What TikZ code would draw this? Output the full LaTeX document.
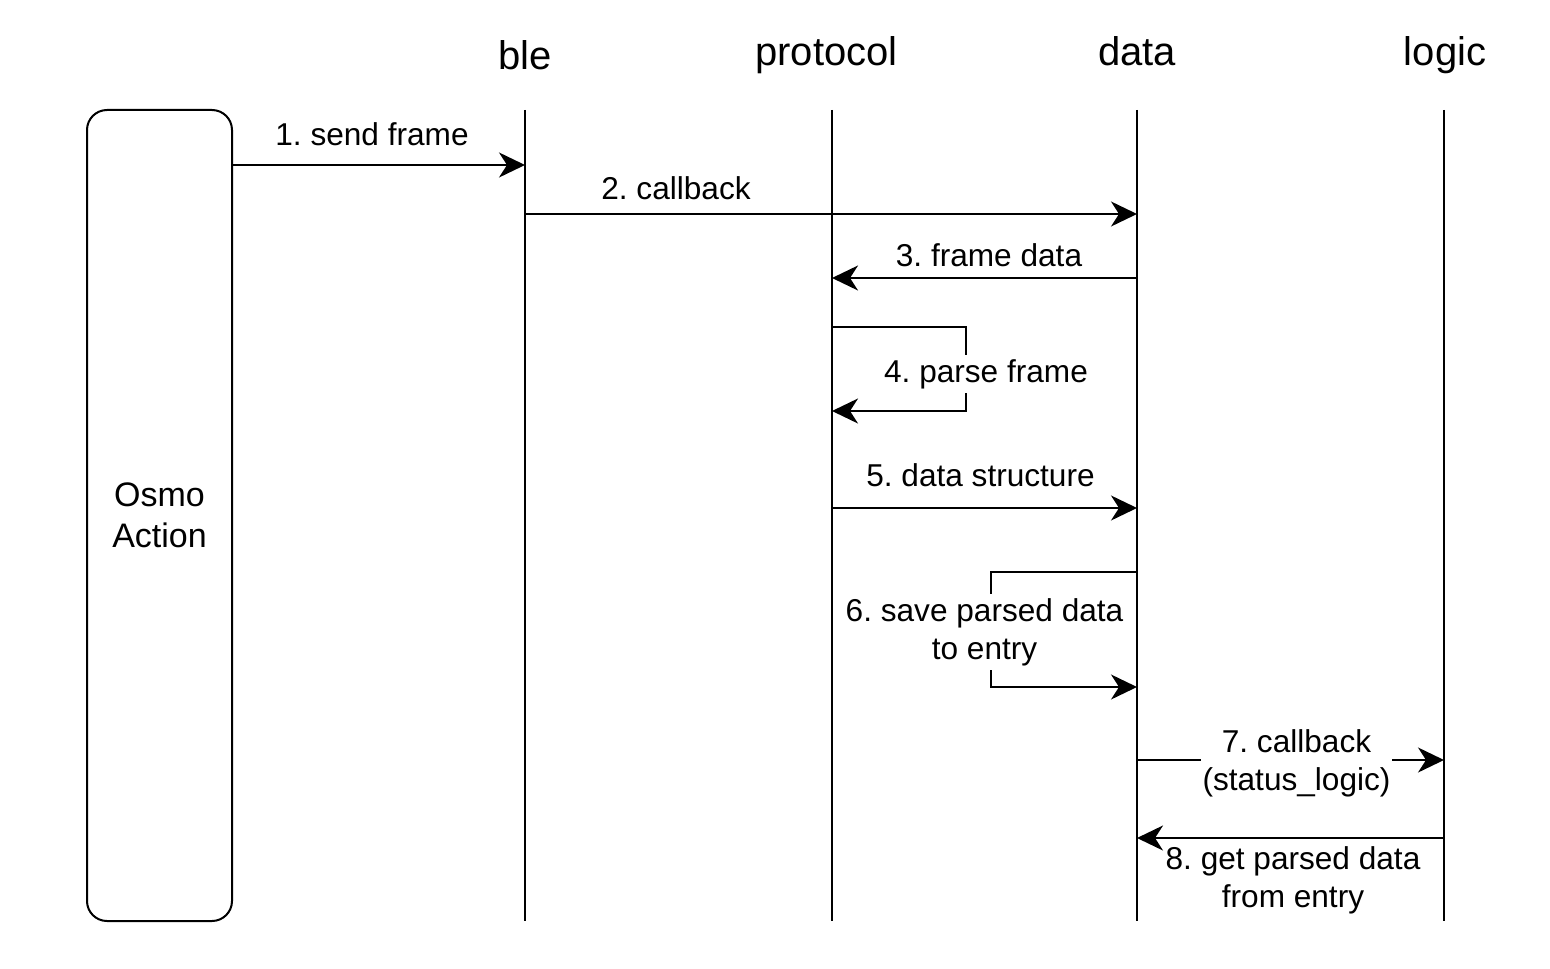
\documentclass[tikz,border=0pt]{standalone}
\usepackage{fontspec}
\setmainfont{Liberation Sans}
\usetikzlibrary{arrows.meta}
\frenchspacing
\begin{document}
\begin{tikzpicture}[x=0.5pt,y=-0.5pt,
  lifeline/.style={line width=1pt},
  msg/.style={line width=1pt,-{Stealth[length=13pt,width=12.5pt,inset=4pt]}},
  head/.style={font=\fontsize{20}{24}\selectfont, anchor=base, inner sep=0pt},
  lbl/.style={font=\fontsize{15.8}{19}\selectfont, align=center, inner xsep=1pt, inner ysep=2pt},
  lblb/.style={lbl, anchor=base},
  actor/.style={draw, line width=1pt, rounded corners=10pt, minimum width=72.5pt,
    minimum height=405.5pt, align=center, font=\fontsize{17}{20.5}\selectfont}]
\useasboundingbox (0,0) rectangle (1550,968);

% actor box
\node[actor] (osmo) at (159.5,515.5) {Osmo\\Action};

% headers
\node[head] (hble) at (525,70) {ble};
\node[head] (hprot) at (826.5,66) {protocol};
\node[head] (hdata) at (1137,66) {data};
\node[head] (hlogic) at (1445,66) {logic};

% lifelines
\coordinate (bleT) at (525,110);   \coordinate (bleB) at (525,921);
\coordinate (protT) at (832,110);  \coordinate (protB) at (832,921);
\coordinate (dataT) at (1137,110); \coordinate (dataB) at (1137,921);
\coordinate (logT) at (1444,110);  \coordinate (logB) at (1444,921);
\draw[lifeline] (bleT) -- (bleB);
\draw[lifeline] (protT) -- (protB);
\draw[lifeline] (dataT) -- (dataB);
\draw[lifeline] (logT) -- (logB);

% message anchor points
\coordinate (b1) at (525,165);
\coordinate (b2) at (525,214);  \coordinate (d2) at (1137,214);
\coordinate (d3) at (1137,278); \coordinate (p3) at (832,278);
\coordinate (p4a) at (832,327); \coordinate (k4) at (966,327); \coordinate (p4b) at (832,411);
\coordinate (p5) at (832,508);  \coordinate (d5) at (1137,508);
\coordinate (d6a) at (1137,572); \coordinate (k6) at (991,572); \coordinate (d6b) at (1137,687);
\coordinate (d7) at (1137,760); \coordinate (l7) at (1444,760);
\coordinate (l8) at (1444,838); \coordinate (d8) at (1137,838);

% messages
\draw[msg] (osmo.east |- b1) -- (b1);
\draw[msg] (b2) -- (d2);
\draw[msg] (d3) -- (p3);
\draw[msg] (p4a) -- (k4) |- (p4b);
\draw[msg] (p5) -- (d5);
\draw[msg] (d6a) -- (k6) |- (d6b);
\draw[msg] (d7) -- (l7);
\draw[msg] (l8) -- (d8);

% labels
\node[lblb] (t1) at (372,146) {1. send frame};
\node[lblb] (t2) at (676,199) {2. callback};
\node[lblb] (t3) at (989,266) {3. frame data};
\node[lblb, fill=white] (t4) at (986,382) {4. parse frame};
\node[lblb] (t5) at (980.5,486) {5. data structure};
\node[lbl, fill=white] (t6) at (984.5,632) {6. save parsed data\\to entry};
\node[lbl, fill=white] (t7) at (1296.5,763) {7. callback\\(status\_logic)};
\node[lbl] (t8) at (1293,880) {8. get parsed data\\from entry};
\end{tikzpicture}
\end{document}
